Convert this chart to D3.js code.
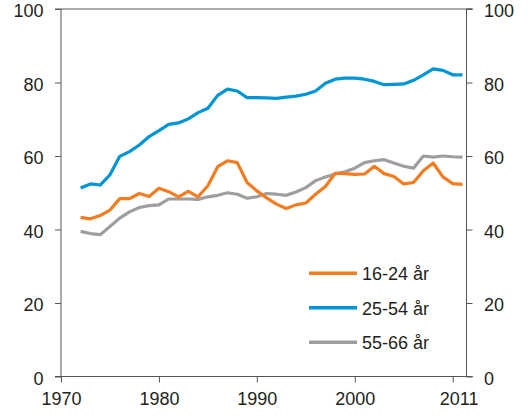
<!DOCTYPE html>
<html>
<head>
<meta charset="utf-8">
<script src="https://cdn.jsdelivr.net/npm/d3@7"></script>
<style>
  body { margin: 0; background: #fff; }
  svg { display: block; font-family: "Liberation Sans", Arial, sans-serif; }
  .axis text { font-size: 18px; fill: #231f20; }
  .axis path, .axis line { stroke: #555; }
</style>
</head>
<body>
<div id="chart"></div>
<script>
// Data, 1972-2011
const years = d3.range(1972, 2012);
const ages1624 = [43.3, 42.9, 43.8, 45.3, 48.4, 48.4, 49.8, 49.0, 51.2, 50.3,
                  48.9, 50.4, 48.9, 51.9, 57.1, 58.7, 58.2, 52.8, 50.5, 48.6,
                  46.9, 45.7, 46.7, 47.2, 49.6, 51.7, 55.3, 55.2, 55.0, 55.1,
                  57.2, 55.2, 54.4, 52.4, 52.8, 56.0, 58.1, 54.3, 52.5, 52.3];
const ages2554 = [51.3, 52.4, 52.1, 54.9, 59.9, 61.2, 63.0, 65.3, 66.9, 68.6,
                  69.0, 70.1, 71.8, 73.0, 76.5, 78.2, 77.7, 75.9, 75.9, 75.8,
                  75.7, 76.0, 76.3, 76.8, 77.7, 79.8, 80.9, 81.2, 81.2, 80.9,
                  80.3, 79.4, 79.5, 79.6, 80.6, 82.1, 83.7, 83.3, 82.1, 82.1];
const ages5566 = [39.5, 38.9, 38.6, 40.8, 43.1, 44.8, 46.0, 46.5, 46.7, 48.3,
                  48.3, 48.3, 48.2, 48.9, 49.3, 50.0, 49.6, 48.5, 48.9, 49.8,
                  49.6, 49.3, 50.2, 51.4, 53.3, 54.3, 55.1, 55.7, 56.7, 58.2,
                  58.7, 59.0, 58.1, 57.2, 56.7, 60.0, 59.7, 60.0, 59.8, 59.7];
const seriesNames = ['16-24 år', '25-54 år', '55-66 år'];
const seriesColors = ['#f47c20', '#0096d6', '#9e9e9e'];
const xTickYears = [1970, 1980, 1990, 2000, 2010];
const xTickLabels = ['1970', '1980', '1990', '2000', '2011'];
const yTicks = [0, 20, 40, 60, 80, 100];

const width = 529, height = 419;
const plotLeft = 61, plotRight = 466.5, plotTop = 9, plotBottom = 376.5;

const svg = d3.select('#chart').append('svg')
    .attr('width', width)
    .attr('height', height);

const x = d3.scaleLinear([1970, 2011], [plotLeft, 462.5]);
const y = d3.scaleLinear([0, 100], [plotBottom, plotTop]);

// top border
svg.append('line')
    .attr('x1', plotLeft).attr('x2', plotRight + 6)
    .attr('y1', plotTop).attr('y2', plotTop)
    .attr('stroke', '#555');

svg.append('g')
    .attr('class', 'axis')
    .attr('transform', `translate(${plotLeft},0)`)
    .call(d3.axisLeft(y).tickValues(yTicks).tickSize(6).tickPadding(11.5))
    .call(g => g.select('.domain').attr('d', `M-6,${plotBottom}H0V${plotTop}H-6`))
    .call(g => g.selectAll('.tick text').attr('dy', '0.42em'));

svg.append('g')
    .attr('class', 'axis')
    .attr('transform', `translate(${plotRight},0)`)
    .call(d3.axisRight(y).tickValues(yTicks).tickSize(6).tickPadding(11.5))
    .call(g => g.select('.domain').attr('d', `M6,${plotBottom}H0V${plotTop}H6`))
    .call(g => g.selectAll('.tick text').attr('dy', '0.42em'));

svg.append('g')
    .attr('class', 'axis')
    .attr('transform', `translate(0,${plotBottom})`)
    .call(d3.axisBottom(x).tickValues(xTickYears).tickSize(6).tickPadding(10)
        .tickFormat((d, i) => xTickLabels[i]))
    .call(g => g.select('.domain').attr('d', `M${plotLeft},0H${plotRight + 6}`))
    // the last label sits a little right of its tick in the original
    .call(g => g.selectAll('.tick text').filter((d, i) => i === xTickYears.length - 1).attr('dx', 6));

const allSeries = [ages1624, ages2554, ages5566];
const line = d3.line()
    .x((d, i) => x(years[i]))
    .y(d => y(d));

// draw gray first, then orange, then blue on top
[2, 0, 1].forEach(k => {
    svg.append('path')
        .datum(allSeries[k])
        .attr('fill', 'none')
        .attr('stroke', seriesColors[k])
        .attr('stroke-width', 3.2)
        .attr('stroke-linejoin', 'round')
        .attr('d', line);
});

// Legend
const legend = svg.append('g').attr('transform', 'translate(309,273.3)');
seriesNames.forEach((name, i) => {
    const g = legend.append('g').attr('transform', `translate(0,${i * 34.5})`);
    g.append('line')
        .attr('x1', 0).attr('x2', 48)
        .attr('stroke', seriesColors[i])
        .attr('stroke-width', 3.5);
    g.append('text')
        .attr('x', 53)
        .attr('dy', '0.38em')
        .style('font-size', '18px')
        .attr('fill', '#231f20')
        .text(name);
});
</script>
</body>
</html>
